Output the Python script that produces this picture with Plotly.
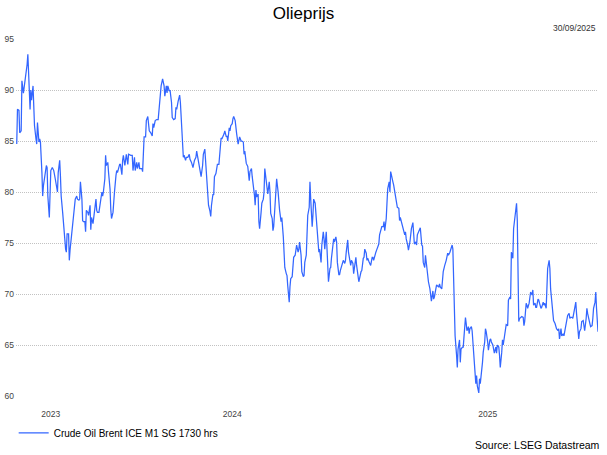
import plotly.graph_objects as go

days = [
    0, 1, 3, 4, 6, 7, 9, 11, 12, 14, 15, 17, 18, 19, 20, 22, 23, 24, 26, 27,
    28, 30, 31, 32, 34, 35, 36, 38, 40, 41, 42, 44, 45, 46, 48, 50, 52, 54, 55, 56,
    58, 59, 60, 62, 63, 64, 66, 67, 68, 70, 71, 72, 74, 75, 76, 78, 79, 81, 82, 84,
    85, 86, 88, 89, 90, 92, 93, 94, 96, 97, 99, 100, 101, 103, 104, 105, 107, 108, 109, 111,
    112, 113, 115, 116, 117, 119, 120, 121, 123, 124, 126, 127, 128, 130, 131, 132, 134, 135, 136, 138,
    139, 140, 142, 143, 144, 146, 147, 148, 150, 151,
    154, 156, 157, 159, 160, 162, 163, 165, 166, 169, 170, 172, 174, 175, 177, 179, 181, 183, 184, 185,
    187, 189, 191, 193, 194, 195, 197, 199, 200, 202, 203, 204, 206, 207, 209, 210, 212, 214, 215, 216,
    218, 220, 221, 222, 224, 225, 226, 228, 229, 231, 233, 234, 236, 238, 240, 242, 243, 245, 247, 249,
    251, 252, 254, 255, 256, 258, 259, 261, 262, 263, 265, 266, 267, 269, 270, 271, 273, 274, 276, 277,
    279, 280, 281, 283, 284, 285, 287, 288, 289, 291, 292, 293, 295, 296, 297, 299, 300, 301, 303, 304,
    306, 307,
    308, 310, 312, 314, 315, 317, 318, 319, 321, 322, 323, 324, 326, 327, 328, 330, 331, 333, 334, 335,
    337, 338, 339, 341, 342, 343, 345, 346, 347, 349, 350, 351, 353, 354, 355, 357, 358, 360, 361, 362,
    364, 365, 366, 368, 369, 370, 372, 373, 374, 376, 377, 378, 380, 381, 382, 384, 385, 387, 388, 389,
    391, 392, 393, 395, 396, 397, 399, 400, 401, 403, 404, 405, 407, 408, 409, 411, 412, 414, 415, 416,
    418, 419, 420, 421, 423, 424, 425, 427, 428, 429, 431, 432, 433, 435, 436, 437, 439, 440, 441, 443,
    444, 445, 447, 448, 450, 451, 452, 454, 455, 456, 458, 459, 460, 462,
    465, 466, 468, 469, 470, 472, 473, 474, 476, 477, 478, 480, 481, 482, 484, 485, 486, 488, 489, 490,
    492, 493, 495, 496, 497, 499, 500, 501, 503, 504, 505, 506, 508, 509, 510, 512, 513, 514, 516, 517,
    518, 520, 521, 522, 524, 525, 526, 528, 529, 531, 532, 533, 535, 536, 537, 539, 540, 541, 543, 544,
    545, 547, 548, 549, 551, 552, 553, 555, 556, 558, 559, 560, 562, 563, 564, 566, 567, 568, 570, 571,
    572, 574, 575, 576, 578, 579, 580, 582, 583, 585, 586, 587, 588, 589, 590, 591, 592, 594, 595, 596,
    598, 599, 600, 602, 603, 604, 606, 607, 608, 610, 611, 612, 614, 615, 616,
    618, 620, 621, 622, 624, 625, 626, 628, 629, 630, 632, 633, 634, 636, 637, 639, 640, 641, 643, 644,
    645, 647, 648, 649, 651, 652, 653, 655, 656, 657, 659, 660, 661, 663, 664, 666, 667, 668, 670, 671,
    672, 674, 675, 676, 677, 678, 679, 681, 682, 684, 685, 686, 688, 689, 690, 692, 693, 694, 696, 697,
    698, 700, 701, 702, 704, 705, 706, 708, 709, 711, 712, 713, 715, 716, 717, 719, 720, 721, 723, 724,
    725, 727, 728, 729, 731, 732, 733, 735, 736, 738, 739, 740, 742, 743, 744, 746, 747, 748, 750, 751,
    752, 754, 755, 756, 758, 759, 760, 762, 763, 765, 766, 767, 769, 770, 771, 773, 774, 775, 777, 778,
    779, 781, 782, 783, 785,
]

prices = [
    84.7, 88.1, 88.0, 85.8, 86.0, 90.9, 89.7, 90.7, 91.7, 92.5, 93.5, 90.0, 88.1, 90.0, 89.0, 90.4, 88.0, 86.5, 85.2, 84.7,
    86.8, 84.9, 85.2, 84.9, 81.9, 79.6, 80.6, 81.9, 82.6, 82.4, 79.6, 77.5, 80.3, 82.1, 82.4, 82.1, 81.3, 80.6, 80.0, 81.9,
    83.1, 81.6, 79.6, 78.0, 77.0, 75.4, 74.4, 74.1, 75.9, 75.9, 73.3, 74.3, 75.7, 76.5, 77.4, 78.2, 79.3, 79.6, 79.3, 79.2,
    79.3, 81.0, 79.3, 77.2, 77.1, 77.1, 76.1, 78.2, 78.0, 77.7, 78.7, 76.3, 77.5, 76.9, 77.4, 78.3, 79.3, 78.2, 78.0, 78.0,
    78.5, 79.0, 80.0, 79.6, 80.0, 81.3, 83.6, 82.6, 82.9, 81.9, 80.3, 78.3, 77.4, 78.0, 78.7, 80.0, 81.6, 82.1, 81.9, 82.7,
    82.7, 82.7, 81.7, 83.1, 83.6, 82.6, 83.6, 83.7, 82.7, 83.7,
    83.6, 83.6, 82.1, 83.4, 82.1, 82.9, 82.3, 82.9, 82.3, 82.3, 82.0, 85.4, 85.4, 87.0, 87.4, 86.0, 85.8, 85.5, 86.7, 86.3,
    87.0, 87.1, 87.1, 88.9, 89.3, 90.4, 91.1, 90.4, 89.4, 90.4, 89.7, 90.4, 89.9, 90.0, 88.8, 87.3, 87.1, 87.2, 88.3, 88.1,
    88.9, 89.5, 88.8, 87.3, 83.7, 83.4, 83.6, 83.1, 83.4, 83.4, 83.7, 83.2, 82.9, 82.4, 83.1, 83.4, 84.0, 83.1, 82.3, 81.5,
    82.6, 83.7, 84.2, 83.2, 81.5, 80.3, 78.7, 78.1, 77.6, 78.7, 79.8, 79.7, 81.5, 81.8, 82.6, 82.7, 82.7, 83.7, 85.3, 85.2,
    85.5, 85.7, 86.0, 85.4, 85.5, 85.0, 86.3, 86.0, 86.5, 86.7, 87.2, 87.4, 87.0, 86.2, 85.7, 84.7, 85.2, 85.4, 85.0, 85.0,
    84.9, 83.7,
    84.0, 82.8, 82.5, 81.1, 82.0, 82.3, 81.5, 81.0, 79.7, 78.7, 80.2, 79.5, 79.8, 77.1, 76.4, 78.0, 78.9, 79.3, 80.0, 82.3,
    81.0, 80.2, 79.8, 81.0, 80.0, 77.9, 77.4, 76.2, 76.6, 78.9, 80.3, 81.3, 80.0, 78.7, 78.2, 77.1, 77.5, 75.6, 72.8, 72.6,
    72.0, 71.8, 70.8, 69.2, 70.7, 71.5, 71.7, 72.8, 73.6, 73.8, 74.3, 74.8, 74.1, 74.4, 75.1, 73.8, 72.2, 71.7, 71.8, 73.1,
    73.8, 76.1, 77.7, 78.5, 81.0, 79.3, 76.6, 77.7, 79.3, 78.9, 77.9, 76.1, 74.4, 74.1, 74.4, 73.1, 74.8, 76.1, 75.4, 74.4,
    76.1, 74.3, 71.3, 71.2, 72.5, 72.6, 73.5, 75.3, 75.4, 75.1, 75.6, 75.1, 73.1, 71.9, 71.9, 72.3, 72.8, 73.3, 73.3, 73.0,
    73.3, 74.1, 75.3, 74.1, 72.9, 72.8, 73.3, 73.0, 72.0, 72.6, 73.6, 72.8, 72.3, 71.2,
    72.2, 72.3, 73.5, 73.6, 74.4, 74.0, 73.3, 73.5, 73.1, 73.0, 72.8, 73.6, 73.6, 73.3, 74.0, 74.1, 74.3, 74.8, 74.9, 75.8,
    76.2, 76.6, 76.6, 77.1, 76.2, 77.4, 78.9, 80.3, 81.0, 80.0, 82.0, 81.5, 81.0, 80.7, 80.2, 79.3, 79.0, 78.5, 78.4, 77.2,
    77.5, 76.9, 76.6, 76.1, 75.8, 76.1, 75.4, 74.8, 74.3, 75.1, 75.9, 76.4, 77.0, 75.6, 74.9, 75.1, 74.8, 75.8, 76.1, 76.2,
    76.5, 74.8, 74.7, 73.1, 72.6, 73.8, 73.1, 71.8, 71.2, 70.5, 69.5, 69.3, 70.3, 69.5, 69.7, 70.7, 70.9, 70.8, 70.7, 71.0,
    70.7, 70.5, 72.0, 72.2, 72.8, 73.0, 73.3, 74.0, 73.8, 74.1, 74.4, 74.8, 74.8, 74.4, 71.2, 67.9, 65.9, 64.0, 62.8, 64.6,
    65.5, 63.3, 64.6, 64.8, 64.8, 65.8, 67.7, 67.1, 66.4, 66.8, 66.1, 66.6, 66.8, 66.4, 65.3,
    63.3, 61.2, 62.0, 61.0, 60.3, 61.7, 61.2, 62.4, 63.3, 64.3, 65.3, 66.6, 66.3, 65.3, 64.5, 65.5, 65.6, 65.3, 65.0, 64.6,
    64.2, 64.8, 64.2, 65.0, 64.8, 64.0, 62.8, 64.3, 65.5, 65.0, 65.8, 66.6, 67.0, 66.9, 69.4, 69.7, 69.5, 74.1, 73.5, 76.4,
    77.1, 78.9, 78.9, 77.2, 73.8, 67.3, 67.6, 67.7, 67.8, 67.7, 66.9, 67.3, 69.1, 68.9, 68.6, 69.1, 70.0, 70.2, 69.9, 70.4,
    68.9, 69.1, 68.7, 68.7, 69.5, 69.4, 69.1, 68.6, 68.7, 69.2, 68.9, 69.1, 68.6, 70.5, 72.5, 73.3, 72.5, 70.5, 69.2, 68.2,
    67.4, 67.1, 66.6, 66.6, 66.4, 66.6, 65.6, 66.6, 65.9, 66.1, 65.9, 66.3, 66.9, 67.6, 67.9, 68.1, 67.6, 67.7, 67.7, 67.6,
    68.1, 68.6, 69.2, 68.1, 66.6, 65.6, 66.3, 66.6, 67.3, 67.4, 66.9, 66.4, 67.6, 68.6, 68.1, 67.6, 67.1, 66.8, 66.9, 67.6,
    68.6, 69.2, 70.2, 68.6, 66.3,
]

year_ticks = [46, 291, 636]
year_labels = ["2023", "2024", "2025"]
y_ticks = [60, 65, 70, 75, 80, 85, 90, 95]

series_name = "Crude Oil Brent ICE M1 SG 1730 hrs"
title_text = "Olieprijs"
date_text = "30/09/2025"
source_text = "Source: LSEG Datastream"

FONT = "Liberation Sans, Arial, sans-serif"

fig = go.Figure()
fig.add_trace(go.Scatter(
    x=days, y=prices, mode="lines", name=series_name,
    line=dict(color="#3366ff", width=1.25),
))

fig.update_layout(
    width=607, height=455,
    margin=dict(l=16, r=9, t=39, b=58),
    paper_bgcolor="white", plot_bgcolor="white",
    font=dict(family=FONT, size=9, color="#444444"),
    title=dict(text=title_text, x=0.5, xanchor="center", y=1 - 13 / 455, yanchor="middle",
               font=dict(family=FONT, size=17, color="#000000")),
    showlegend=True,
    legend=dict(orientation="h", x=-0.004, xanchor="left", y=-0.10, yanchor="middle",
                font=dict(family=FONT, size=10, color="#000000"), bgcolor="rgba(0,0,0,0)"),
    xaxis=dict(range=[-1, 785], showgrid=False, zeroline=False, showline=False,
               tickmode="array", tickvals=year_ticks, ticktext=year_labels,
               ticks="", tickfont=dict(size=8.5, color="#444444"), ticklabelstandoff=11,
               automargin=False),
    yaxis=dict(range=[60, 95], tickmode="array", tickvals=y_ticks,
               showgrid=True, gridcolor="#c2c2c2", griddash="1px,1px", gridwidth=1,
               zeroline=False, showline=False, ticks="",
               tickfont=dict(size=8.5, color="#444444"), ticklabelstandoff=1,
               automargin=False),
    annotations=[
        dict(text=date_text, xref="paper", yref="paper", x=1.0, y=(397 - 28) / 358,
             xanchor="right", yanchor="middle", showarrow=False,
             font=dict(family=FONT, size=8.5, color="#333333")),
        dict(text=source_text, xref="paper", yref="paper", x=(601 - 16) / 581, y=(397 - 446) / 358,
             xanchor="right", yanchor="middle", showarrow=False,
             font=dict(family=FONT, size=10.5, color="#000000")),
    ],
)

fig.write_html("out.html", config={"displayModeBar": False},
               post_script="document.body.style.margin='0';")
